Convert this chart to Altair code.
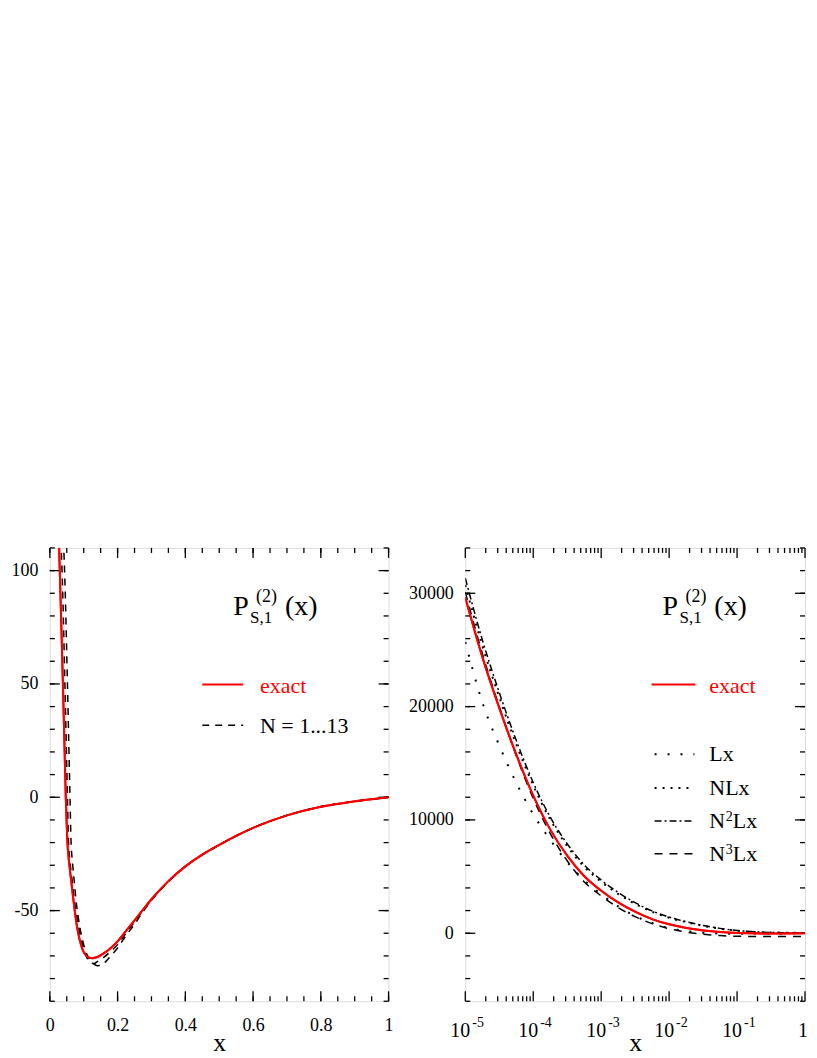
import altair as alt
import pandas as pd

FONT = "Liberation Serif"
H = 455
W1 = 340
W2 = 341

# ---------------- left panel data (linear x) ----------------
left_x_exact = [0.025, 0.0274, 0.0293, 0.034, 0.0386, 0.043, 0.047, 0.0515, 0.057, 0.0632, 0.0685,
                0.0735, 0.08, 0.0882, 0.097, 0.105, 0.115, 0.125, 0.14, 0.16, 0.18, 0.2, 0.225,
                0.25, 0.275, 0.3, 0.35, 0.4, 0.45, 0.5, 0.6, 0.7, 0.8, 0.9, 1.0]
left_y_exact = [125, 110, 100, 75, 50, 24, 0, -19, -29, -37, -44, -50, -57, -63, -67.3, -69.5,
                -70.7, -71, -70.5, -68.8, -66.5, -63.6, -59, -54.3, -49.6, -45, -37, -30.5,
                -25.3, -21, -13.5, -8, -4.2, -1.8, 0]

left_x_nA = [0.030, 0.0335, 0.036, 0.0445, 0.052, 0.055, 0.06, 0.066, 0.072, 0.079, 0.09, 0.1,
             0.11, 0.12, 0.13, 0.14, 0.16, 0.18, 0.2, 0.225, 0.25, 0.275, 0.3, 0.35, 0.4, 0.45,
             0.5, 0.6, 0.7, 0.8, 0.9, 1.0]
left_y_nA = [125, 110, 100, 50, 0, -19, -29, -37, -45, -52, -61, -67, -71, -73, -73.3, -72.5,
             -70.5, -68, -65, -60, -55, -50, -45.2, -37, -30.5, -25.3, -21, -13.5, -8, -4.2,
             -1.8, 0]

left_x_nB = [0.037, 0.041, 0.0435, 0.052, 0.0595, 0.0625, 0.067, 0.072, 0.077, 0.083, 0.092, 0.1,
             0.11, 0.12, 0.13, 0.14, 0.15, 0.165, 0.18, 0.2, 0.225, 0.25, 0.275, 0.3, 0.35, 0.4,
             0.45, 0.5, 0.6, 0.7, 0.8, 0.9, 1.0]
left_y_nB = [125, 110, 100, 50, 0, -19, -29, -37, -45, -52, -60, -65, -69.5, -72, -73.5, -74.3,
             -74.2, -72.5, -70, -66.5, -61, -56, -50.5, -45.5, -37.2, -30.6, -25.4, -21.1,
             -13.5, -8, -4.2, -1.8, 0]

# ---------------- right panel data (log x) ----------------
right_x = [1e-5, 1.8e-5, 3.2e-5, 5.6e-5, 1e-4, 1.8e-4, 3.2e-4, 5.6e-4, 1e-3, 1.8e-3, 3.2e-3,
           5.6e-3, 1e-2, 1.8e-2, 3.2e-2, 5.6e-2, 0.1, 0.32, 1.0]
right_exact = [29630, 24300, 19800, 15800, 12150, 9100, 6800, 5050, 3750, 2700, 1880, 1250,
               790, 470, 250, 110, 30, -20, 0]
right_Lx = [25700, 20300, 16500, 13300, 10500, 8200, 6250, 4700, 3450, 2350, 1500, 900, 450,
            180, 40, -20, -40, -20, 0]
right_NLx = [30730, 25300, 20750, 16700, 13050, 9980, 7650, 5870, 4550, 3450, 2580, 1900,
             1370, 970, 650, 410, 230, 60, 30]
right_N2Lx = [31330, 25800, 21150, 17050, 13300, 10200, 7850, 6050, 4700, 3580, 2680, 1970,
              1430, 1010, 680, 430, 250, 70, 40]
right_N3Lx = [30100, 24600, 19900, 15700, 11900, 8750, 6350, 4550, 3300, 2250, 1450, 850, 400,
              100, -80, -200, -270, -290, -290]

# ---------------- ticks ----------------
left_xticks_major = [0, 0.2, 0.4, 0.6, 0.8, 1]
left_xticks_minor = [round(i * 0.05, 2) for i in range(21)]
left_yticks_major = [-50, 0, 50, 100]
left_yticks_minor = list(range(-90, 111, 10))
right_xticks_major = [1e-5, 1e-4, 1e-3, 1e-2, 1e-1, 1]
right_xticks_minor = [k * 10.0 ** d for d in range(-5, 0) for k in range(2, 10)]
right_yticks_major = [0, 10000, 20000, 30000]
right_yticks_minor = list(range(-6000, 34001, 2000))
right_exponents = ["-5", "-4", "-3", "-2", "-1"]

MAJ, MIN = 10, 5
LABEL_EXPR = "'' + datum.value"


def line_layer(xs, ys, xsc, ysc, xaxis, yaxis, color, width, dash=None):
    df = pd.DataFrame({"x": xs, "y": ys})
    kw = dict(color=color, strokeWidth=width, clip=True, interpolate="monotone")
    if dash:
        kw["strokeDash"] = dash
    return alt.Chart(df).mark_line(**kw).encode(
        x=alt.X("x:Q", scale=xsc, axis=xaxis),
        y=alt.Y("y:Q", scale=ysc, axis=yaxis),
    )


def xtick_layers(vals, xsc, xaxis, length):
    df = pd.DataFrame({"v": vals})
    b = alt.Chart(df).mark_rule(color="black", strokeWidth=1.3)
    return [
        b.encode(x=alt.X("v:Q", scale=xsc, axis=xaxis), y=alt.value(H - length), y2=alt.value(H)),
        b.encode(x=alt.X("v:Q", scale=xsc, axis=xaxis), y=alt.value(0), y2=alt.value(length)),
    ]


def ytick_layers(vals, ysc, yaxis, length, W):
    df = pd.DataFrame({"v": vals})
    b = alt.Chart(df).mark_rule(color="black", strokeWidth=1.3)
    return [
        b.encode(y=alt.Y("v:Q", scale=ysc, axis=yaxis), x=alt.value(0), x2=alt.value(length)),
        b.encode(y=alt.Y("v:Q", scale=ysc, axis=yaxis), x=alt.value(W - length), x2=alt.value(W)),
    ]


def txt(s, x, y, size, color="black", align="left"):
    return alt.Chart(pd.DataFrame({"t": [s]})).mark_text(
        text=s, font=FONT, fontSize=size, color=color, align=align, baseline="alphabetic"
    ).encode(x=alt.value(x), y=alt.value(y))


def seg(x1, x2, y, color, width, dash=None):
    kw = dict(color=color, strokeWidth=width)
    if dash:
        kw["strokeDash"] = dash
    return alt.Chart(pd.DataFrame({"a": [0]})).mark_rule(**kw).encode(
        x=alt.value(x1), x2=alt.value(x2), y=alt.value(y))


def title_layers(px):
    return [
        txt("P", px, 67, 28),
        txt("(2)", px + 23, 54, 18),
        txt("S,1", px + 17, 75, 17),
        txt("(x)", px + 52, 67, 28),
    ]


TITLE_KW = dict(title="x", titleFont=FONT, titleFontSize=26, titleFontWeight="normal",
                titleColor="black", titleBaseline="alphabetic", titleY=49)

# ---------------- left panel ----------------
xsc1 = alt.Scale(domain=[0, 1], nice=False, zero=False)
ysc1 = alt.Scale(domain=[-90, 110], nice=False, zero=False)

left_xaxis = alt.Axis(values=left_xticks_major, labelExpr=LABEL_EXPR, ticks=False, tickSize=0,
                      domain=False, grid=False, labelFont=FONT, labelFontSize=18, labelPadding=15,
                      labelColor="black", labelFlush=False, labelOverlap=False, **TITLE_KW)
left_yaxis = alt.Axis(values=left_yticks_major, labelExpr=LABEL_EXPR, ticks=False, tickSize=0,
                      domain=False, grid=False, labelFont=FONT, labelFontSize=18, labelPadding=12,
                      labelColor="black", labelFlush=False, labelOverlap=False, title=None,
                      minExtent=41, maxExtent=41)

left_layers = (
    [line_layer(left_x_exact, left_y_exact, xsc1, ysc1, left_xaxis, left_yaxis, "red", 2)]
    + xtick_layers(left_xticks_minor, xsc1, left_xaxis, MIN)
    + xtick_layers(left_xticks_major, xsc1, left_xaxis, MAJ)
    + ytick_layers(left_yticks_minor, ysc1, left_yaxis, MIN, W1)
    + ytick_layers(left_yticks_major, ysc1, left_yaxis, MAJ, W1)
    + [
        line_layer(left_x_nA, left_y_nA, xsc1, ysc1, left_xaxis, left_yaxis, "black", 1.5, [7, 6]),
        line_layer(left_x_nB, left_y_nB, xsc1, ysc1, left_xaxis, left_yaxis, "black", 1.5, [7, 6]),
        line_layer(left_x_exact, left_y_exact, xsc1, ysc1, left_xaxis, left_yaxis, "red", 2),
    ]
    + title_layers(184)
    + [
        seg(153, 194, 137, "red", 2),
        txt("exact", 211, 146, 22, "red"),
        seg(153, 194, 178, "black", 1.5, [7, 6]),
        txt("N = 1...13", 211, 186, 22),
    ]
)
left = alt.layer(*left_layers).properties(width=W1, height=H)

# ---------------- right panel ----------------
xsc2 = alt.Scale(type="log", domain=[1e-5, 1], nice=False)
ysc2 = alt.Scale(domain=[-6000, 34000], nice=False, zero=False)

right_xaxis = alt.Axis(labels=False, ticks=False, tickSize=0, domain=False, grid=False, **TITLE_KW)
right_yaxis = alt.Axis(values=right_yticks_major, labelExpr=LABEL_EXPR, ticks=False, tickSize=0,
                       domain=False, grid=False, labelFont=FONT, labelFontSize=18, labelPadding=12,
                       labelColor="black", labelFlush=False, labelOverlap=False, title=None,
                       minExtent=57, maxExtent=57)

dec_df = pd.DataFrame({"v": right_xticks_major[:-1], "e": right_exponents})
tens = alt.Chart(dec_df).mark_text(text="10", font=FONT, fontSize=20, align="right",
                                   baseline="alphabetic", dx=5, color="black").encode(
    x=alt.X("v:Q", scale=xsc2, axis=right_xaxis), y=alt.value(H + 36))
exps = alt.Chart(dec_df).mark_text(font=FONT, fontSize=14, align="left",
                                   baseline="alphabetic", dx=7, color="black").encode(
    x=alt.X("v:Q", scale=xsc2, axis=right_xaxis), y=alt.value(H + 26), text="e:N")
one = alt.Chart(pd.DataFrame({"v": [1.0]})).mark_text(text="1", font=FONT, fontSize=20,
                                                      align="center", baseline="alphabetic",
                                                      dx=-2, color="black").encode(
    x=alt.X("v:Q", scale=xsc2, axis=right_xaxis), y=alt.value(H + 36))

right_layers = (
    [line_layer(right_x, right_exact, xsc2, ysc2, right_xaxis, right_yaxis, "red", 2)]
    + xtick_layers(right_xticks_minor, xsc2, right_xaxis, MIN)
    + xtick_layers(right_xticks_major, xsc2, right_xaxis, MAJ)
    + ytick_layers(right_yticks_minor, ysc2, right_yaxis, MIN, W2)
    + ytick_layers(right_yticks_major, ysc2, right_yaxis, MAJ, W2)
    + [
        line_layer(right_x, right_Lx, xsc2, ysc2, right_xaxis, right_yaxis, "black", 2, [2, 11]),
        line_layer(right_x, right_NLx, xsc2, ysc2, right_xaxis, right_yaxis, "black", 2, [2, 6]),
        line_layer(right_x, right_N2Lx, xsc2, ysc2, right_xaxis, right_yaxis, "black", 1.5, [7, 3, 2, 3]),
        line_layer(right_x, right_N3Lx, xsc2, ysc2, right_xaxis, right_yaxis, "black", 1.5, [8, 7]),
        line_layer(right_x, right_exact, xsc2, ysc2, right_xaxis, right_yaxis, "red", 2),
        tens, exps, one,
    ]
    + title_layers(198)
    + [
        seg(187, 231, 137, "red", 2),
        txt("exact", 245, 146, 22, "red"),
        seg(190, 230, 207, "black", 2, [2, 11]),
        txt("Lx", 245, 214, 22),
        seg(190, 230, 241, "black", 2, [2, 6]),
        txt("NLx", 245, 248, 22),
        seg(190, 230, 274, "black", 1.5, [7, 3, 2, 3]),
        txt("N", 245, 281, 22),
        txt("2", 261.5, 274, 14),
        txt("Lx", 268.5, 281, 22),
        seg(190, 230, 307, "black", 1.5, [8, 7]),
        txt("N", 245, 314, 22),
        txt("3", 261.5, 307, 14),
        txt("Lx", 268.5, 314, 22),
    ]
)
right = alt.layer(*right_layers).properties(width=W2, height=H)

chart = alt.hconcat(left, right, spacing=14).properties(
    padding={"left": 0, "top": 538, "right": 0, "bottom": 0}
).configure_view(stroke="black", strokeWidth=2).configure(background="white")

chart.save("out.html", embed_options={"renderer": "svg", "actions": False})
